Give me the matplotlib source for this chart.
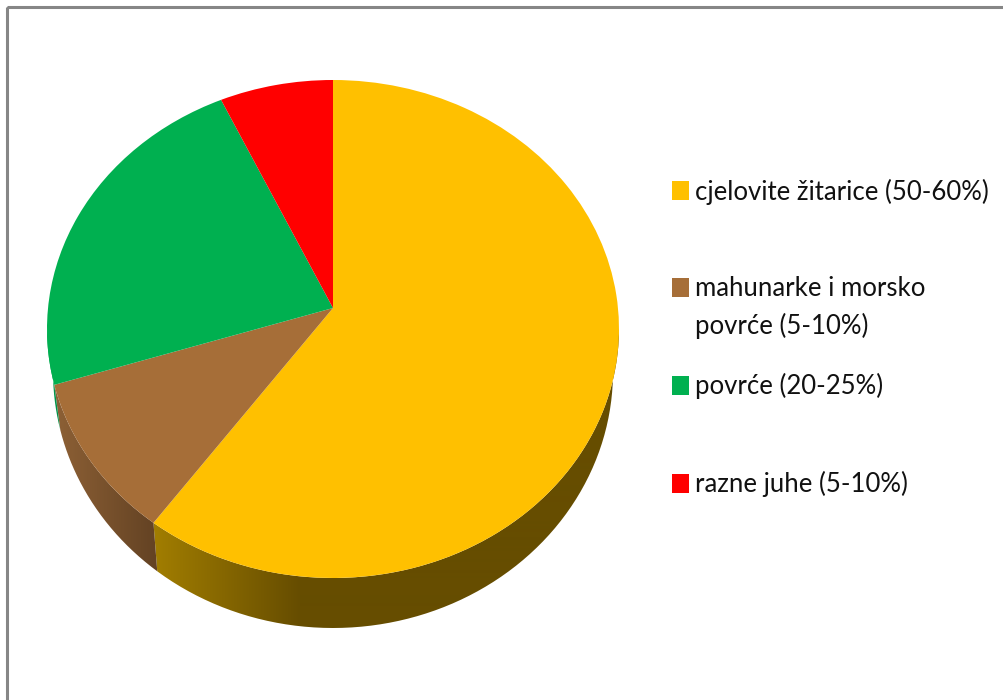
import numpy as np
import matplotlib
matplotlib.use("Agg")
import matplotlib.pyplot as plt
from matplotlib.patches import Rectangle, PathPatch
from matplotlib.path import Path

# data (clockwise from the top)
labels = ["cjelovite žitarice (50-60%)", "mahunarke i morsko", "povrće (20-25%)", "razne juhe (5-10%)"]
label_second_line = "povrće (5-10%)"
values = [60.8, 10.6, 22.2, 6.4]
colors = ["#FFC000", "#A66E38", "#00B050", "#FF0000"]

W, H = 1004, 700
plt.rcParams["font.family"] = ["Lato", "DejaVu Sans"]

fig = plt.figure(figsize=(W / 100, H / 100), dpi=100, facecolor="white")

# background axes in pixel coordinates
bg = fig.add_axes([0, 0, 1, 1])

# frame, runs off the right and bottom edge
bg.add_patch(Rectangle((7, 7), W, H, fill=False, ec="#868686", lw=2.2))

# top face ellipse and lower rim ellipse
cx, cy, rx, ry = 333, 329, 286, 249
rim_rx, rim_cy, rim_ry = 280, 372, 256
apex_y = 308


def shade(x, stops):
    xs, cols = zip(*stops)
    rgb = np.array([matplotlib.colors.to_rgb(c) for c in cols])
    return np.stack([np.interp(x, xs, rgb[:, i]) for i in range(3)], axis=-1)


side_stops = [
    [(153, "#A27E00"), (300, "#664D00"), (620, "#664D00")],
    [(53, "#8E6136"), (157, "#634223")],
    [(47, "#00A552"), (60, "#008A44")],
    [(47, "#AA0000"), (60, "#AA0000")],
]

# side wall, only the part facing the viewer
edges = np.concatenate([[0], np.cumsum(values)]) / sum(values) * 360
xgrid = np.arange(0, W)
for i in range(3):
    t0 = max(edges[i], 90)
    t1 = min(edges[i + 1], 270)
    t = np.radians(np.linspace(t0, t1, 200))
    top = np.column_stack([cx + rx * np.sin(t), cy - ry * np.cos(t)])
    rim = np.column_stack([cx + rim_rx * np.sin(t), rim_cy - rim_ry * np.cos(t)])
    poly = Path(np.vstack([top, rim[::-1], top[:1]]))
    img = bg.imshow(shade(xgrid, side_stops[i])[np.newaxis, :, :], extent=(0, W, H, 0),
                    aspect="auto", interpolation="bilinear", zorder=2)
    img.set_clip_path(PathPatch(poly, transform=bg.transData))

# legend
swatch_y = [181, 278, 376, 474]
text_y = [192, 289, 386, 484]
for i in range(4):
    bg.add_patch(Rectangle((672, swatch_y[i]), 17, 19, fc=colors[i], ec="none"))
    bg.text(695, text_y[i], labels[i], fontsize=18.5, va="center", ha="left", color="#111111")
bg.text(695, 326, label_second_line, fontsize=18.5, va="center", ha="left", color="#111111")

bg.set_xlim(0, W)
bg.set_ylim(H, 0)
bg.axis("off")

# pie axes covers just the ellipse, aspect left free
pie_ax = fig.add_axes([(cx - rx) / W, 1 - (cy + ry) / H, 2 * rx / W, 2 * ry / H])
wedges, _ = pie_ax.pie(values, colors=colors, startangle=90, counterclock=False, radius=1)
pie_ax.set_aspect("auto")
pie_ax.set_xlim(-1, 1)
pie_ax.set_ylim(-1, 1)
pie_ax.patch.set_alpha(0)

# the slices meet above the ellipse centre in the picture
dy = (cy - apex_y) / ry
for w in wedges:
    path = w.get_path()
    verts = path.vertices.copy()
    verts = w.get_patch_transform().transform(verts)
    near = np.hypot(verts[:, 0], verts[:, 1]) < 1e-6
    verts[near, 1] = dy
    pie_ax.add_patch(PathPatch(Path(verts, path.codes), fc=w.get_facecolor(), ec="none", zorder=3))
    w.set_visible(False)

fig.savefig("out.png", dpi=100)
